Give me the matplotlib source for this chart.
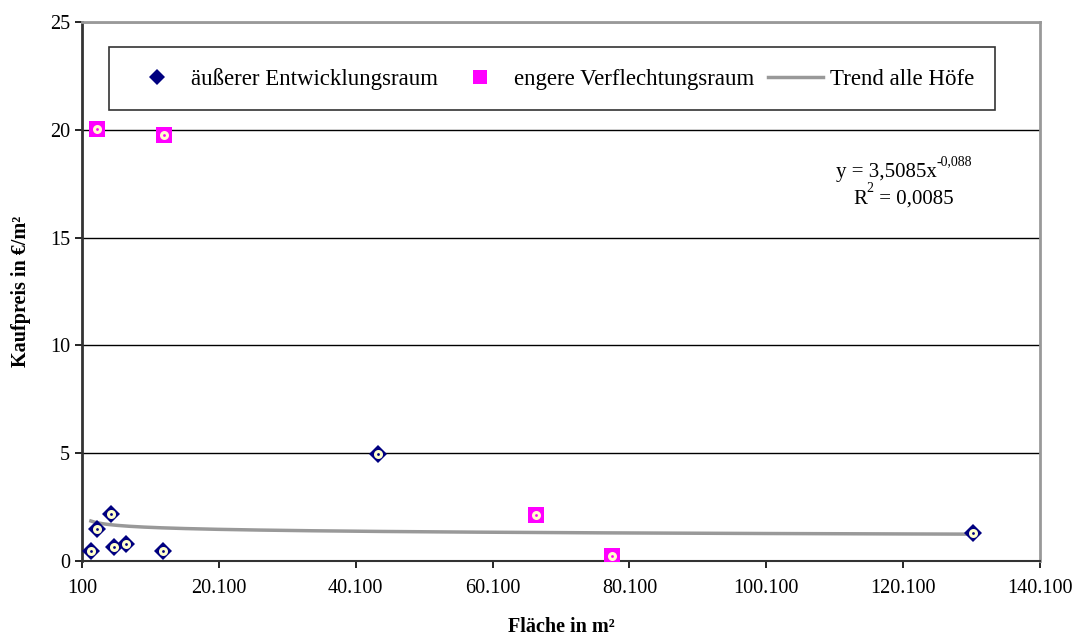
import matplotlib.pyplot as plt
import numpy as np

plt.rcParams['font.family'] = ['Liberation Serif', 'DejaVu Serif']

# Fläche (m²) und Kaufpreis (€/m²)
x_aussen = [1400, 2300, 4300, 4800, 6500, 11900, 43300, 130300]
y_aussen = [0.46, 1.49, 2.20, 0.63, 0.77, 0.46, 4.97, 1.30]
x_eng = [2300, 12100, 66400, 77500]
y_eng = [20.05, 19.75, 2.13, 0.25]

# Potenz-Trend über alle Höfe
trend_a = 3.5085
trend_b = -0.088
xticks = [100, 20100, 40100, 60100, 80100, 100100, 120100, 140100]
xtick_labels = ['100', '20.100', '40.100', '60.100', '80.100', '100.100', '120.100', '140.100']
yticks = [0, 5, 10, 15, 20, 25]

fig = plt.figure(figsize=(10.76, 6.39), dpi=100)
ax = fig.add_axes([0.0762, 0.1221, 0.8903, 0.8435])

ax.set_xlim(100, 140100)
ax.set_ylim(0, 25)
ax.set_xticks(xticks)
ax.set_xticklabels(xtick_labels)
ax.set_yticks(yticks)
ax.yaxis.grid(True, color='black', linewidth=1)
ax.set_axisbelow(True)

xt = np.linspace(min(x_aussen + x_eng), max(x_aussen + x_eng), 300)
ax.plot(xt, trend_a * xt ** trend_b, color='#999999', linewidth=2.5,
        label='Trend alle Höfe', zorder=2)

navy = '#000080'
pink = '#ff00ff'
ax.plot(x_aussen, y_aussen, 'D', color=navy, markersize=9.5, mew=0,
        label='äußerer Entwicklungsraum', zorder=3)
ax.plot(x_aussen, y_aussen, 'o', color='#ffffcc', markersize=6.5, mew=0, zorder=4)
ax.plot(x_aussen, y_aussen, 'o', color=navy, markersize=2, mew=0, zorder=5)

ax.plot(x_eng, y_eng, 's', color=pink, markersize=11.5, mew=0,
        label='engere Verflechtungsraum', zorder=3)
ax.plot(x_eng, y_eng, 'o', color='#ffffcc', markersize=6.5, mew=0, zorder=4)
ax.plot(x_eng, y_eng, 'o', color=pink, markersize=2, mew=0, zorder=5)

for s in ['top', 'right']:
    ax.spines[s].set_color('#999999')
    ax.spines[s].set_linewidth(2)
ax.spines['left'].set_color('#333333')
ax.spines['left'].set_linewidth(2)
ax.spines['bottom'].set_color('#333333')
ax.spines['bottom'].set_linewidth(1.5)
ax.tick_params(labelsize=14.5, length=5, width=1.2, color='black')
ax.tick_params(axis='x', pad=8)

ax.set_xlabel('Fläche in m²', fontsize=14.5, fontweight='bold', labelpad=14)
ax.set_ylabel('Kaufpreis in €/m²', fontsize=14.5, fontweight='bold', labelpad=14)

h, l = ax.get_legend_handles_labels()
order = [1, 2, 0]
leg = ax.legend([h[i] for i in order], [l[i] for i in order], ncol=3,
                loc='lower left', bbox_to_anchor=(0.028, 0.8364, 0.925, 0.143),
                mode='expand', fontsize=16.5, frameon=True, fancybox=False,
                edgecolor='black', borderaxespad=0, handlelength=2.4,
                handletextpad=0.3, borderpad=0.9, markerscale=0.85)
leg.get_frame().set_linewidth(1.2)

# Gleichung des Trends mit hochgestellten Exponenten
eq = ax.text(0.787, 0.721, 'y = 3,5085x', transform=ax.transAxes,
             ha='left', va='center', fontsize=15)
ax.annotate('-0,088', xy=(1.0, 0.72), xycoords=eq, ha='left', va='bottom',
            fontsize=10)
r2 = ax.text(0.8048, 0.671, 'R', transform=ax.transAxes,
             ha='left', va='center', fontsize=15)
sup = ax.annotate('2', xy=(1.0, 0.72), xycoords=r2, ha='left', va='bottom',
                  fontsize=10)
ax.annotate(' = 0,0085', xy=(1.0, 0.5), xycoords=(sup, r2), ha='left',
            va='center', fontsize=15)

plt.savefig('out.png', dpi=100)
